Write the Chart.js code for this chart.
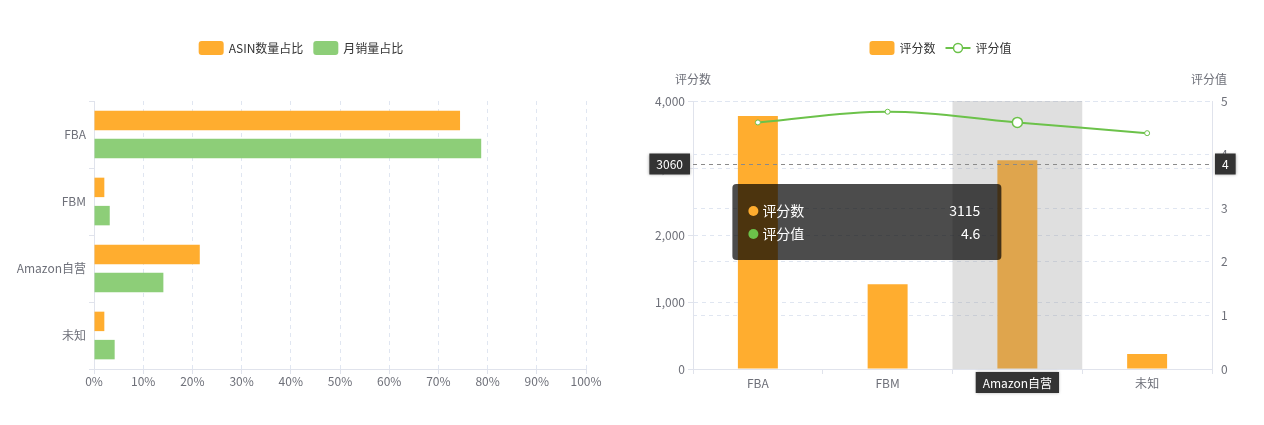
<!DOCTYPE html>
<html>
<head>
<meta charset="utf-8">
<script src="https://cdn.jsdelivr.net/npm/chart.js@4.4.1/dist/chart.umd.min.js"></script>
<style>
  html, body { margin: 0; padding: 0; background: #ffffff; }
  #wrap { position: relative; width: 1264px; height: 425px; overflow: hidden; }
  .panel { position: absolute; top: 0; width: 632px; height: 425px; }
</style>
</head>
<body>
<div id="wrap">
  <div class="panel" style="left:0"><canvas id="shareChart" width="632" height="425"></canvas></div>
  <div class="panel" style="left:632px"><canvas id="ratingChart" width="632" height="425"></canvas></div>
</div>
<script>
// ---------- data ----------
const categories = ['FBA', 'FBM', 'Amazon自营', '未知'];
const asinShare = [74.4, 2.1, 21.5, 2.1];      // ASIN数量占比 (%)
const salesShare = [78.7, 3.2, 14.1, 4.2];     // 月销量占比 (%)
const percentTicks = [0, 10, 20, 30, 40, 50, 60, 70, 80, 90, 100];
const reviewCounts = [3776, 1264, 3115, 224];  // 评分数
const ratingValues = [4.6, 4.8, 4.6, 4.4];     // 评分值
const countTicks = [0, 1000, 2000, 3000, 4000];
const ratingTicks = [0, 1, 2, 3, 4, 5];
const shareLabels = ['ASIN数量占比', '月销量占比'];
const ratingLabels = ['评分数', '评分值'];
const axisNames = ['评分数', '评分值'];
const hoverCategory = 'Amazon自营';
const pointerCount = 3060;

// ---------- styles ----------
const FONT = "'Noto Sans CJK SC', 'Noto Sans', sans-serif";
const ORANGE = '#ffad2f';
const GREEN_BAR = '#8dce78';
const LINE_GREEN = '#6cc24a';
const AXIS = '#e0e3ec';
const GRID = '#e0e6f1';
const LABEL = '#6e7079';
const LEGEND_TEXT = '#333333';

Chart.defaults.font.family = FONT;
Chart.defaults.font.size = 12;
Chart.defaults.color = LABEL;

const tickSetter = (arr) => (scale) => { scale.ticks = arr.map(v => ({ value: v })); };

// custom flat legend (ECharts-like), drawn from datasets
const flatLegend = {
  id: 'flatLegend',
  afterDraw(chart, args, opts) {
    const ctx = chart.ctx;
    ctx.save();
    ctx.font = '12px ' + FONT;
    ctx.textBaseline = 'middle';
    const items = chart.data.datasets.map(ds => ({
      text: ds.label,
      color: ds.type === 'line' ? ds.borderColor : ds.backgroundColor,
      line: ds.type === 'line'
    }));
    const iconW = 25, gapIcon = 5, gapItem = 10;
    let total = 0;
    items.forEach((it, i) => {
      it.w = ctx.measureText(it.text).width;
      total += iconW + gapIcon + it.w + (i > 0 ? gapItem : 0);
    });
    let x = opts.centerX - total / 2;
    const y = opts.y;
    items.forEach(it => {
      if (it.line) {
        ctx.strokeStyle = it.color;
        ctx.lineWidth = 2;
        ctx.beginPath(); ctx.moveTo(x, y); ctx.lineTo(x + iconW, y); ctx.stroke();
        ctx.fillStyle = '#fff';
        ctx.lineWidth = 1.5;
        ctx.beginPath(); ctx.arc(x + iconW / 2, y, 4.5, 0, Math.PI * 2); ctx.fill(); ctx.stroke();
      } else {
        ctx.fillStyle = it.color;
        ctx.beginPath(); ctx.roundRect(x, y - 7, iconW, 14, 3); ctx.fill();
      }
      ctx.fillStyle = LEGEND_TEXT;
      ctx.textAlign = 'left';
      ctx.fillText(it.text, x + iconW + gapIcon, y);
      x += iconW + gapIcon + it.w + gapItem;
    });
    ctx.restore();
  }
};

// ---------- left chart ----------
new Chart(document.getElementById('shareChart'), {
  type: 'bar',
  data: {
    labels: categories,
    datasets: [
      { label: shareLabels[0], data: asinShare, backgroundColor: ORANGE, barPercentage: 0.69, categoryPercentage: 0.842 },
      { label: shareLabels[1], data: salesShare, backgroundColor: GREEN_BAR, barPercentage: 0.69, categoryPercentage: 0.842 }
    ]
  },
  options: {
    indexAxis: 'y',
    responsive: false,
    animation: false,
    events: [],
    layout: { padding: { top: 101, right: 46, bottom: 26, left: 0 } },
    scales: {
      x: {
        type: 'linear', min: 0, max: 100,
        afterBuildTicks: tickSetter(percentTicks),
        ticks: { callback: v => v + '%', color: LABEL, padding: 0, maxRotation: 0, autoSkip: false },
        grid: { color: GRID, tickLength: 5, tickColor: AXIS, tickBorderDash: [] },
        border: { color: AXIS, dash: [4, 4] },
        afterFit: s => { s.height = 30; }
      },
      y: {
        type: 'category',
        ticks: { color: LABEL, padding: 3 },
        grid: { drawOnChartArea: false, tickLength: 5, color: AXIS },
        border: { color: AXIS },
        afterFit: s => { s.width = 94; }
      }
    },
    plugins: {
      legend: { display: false },
      tooltip: { enabled: false },
      flatLegend: { centerX: 301, y: 48 }
    }
  },
  plugins: [flatLegend]
});

// ---------- right chart: hover view (axis pointer + tooltip) ----------
const pointerView = {
  id: 'pointerView',
  beforeDatasetDraw(chart, args) {
    if (args.meta.type !== 'line') return;
    const ctx = chart.ctx, xs = chart.scales.x, area = chart.chartArea;
    const i = categories.indexOf(hoverCategory);
    const half = (xs.getPixelForValue(1) - xs.getPixelForValue(0)) / 2;
    const cx = xs.getPixelForValue(i);
    ctx.save();
    ctx.fillStyle = 'rgba(150,150,150,0.3)';
    ctx.fillRect(cx - half, area.top, half * 2, area.bottom - area.top);
    ctx.restore();
  },
  afterDraw(chart) {
    const ctx = chart.ctx, xs = chart.scales.x, ys = chart.scales.y, ys1 = chart.scales.y1, area = chart.chartArea;
    const i = categories.indexOf(hoverCategory);
    const cx = xs.getPixelForValue(i);
    const pyExact = ys.getPixelForValue(pointerCount);
    const py = Math.round(pyExact) + 0.5;
    const px = cx + 4;

    ctx.save();
    // axis names
    ctx.font = '12px ' + FONT;
    ctx.fillStyle = LABEL;
    ctx.textAlign = 'center';
    ctx.textBaseline = 'middle';
    ctx.fillText(axisNames[0], area.left, 79);
    ctx.fillText(axisNames[1], area.right - 3, 79);

    // crosshair line
    ctx.strokeStyle = '#8a8a8a';
    ctx.lineWidth = 1;
    ctx.setLineDash([4, 4]);
    ctx.beginPath(); ctx.moveTo(area.left, py); ctx.lineTo(area.right, py); ctx.stroke();
    ctx.setLineDash([]);

    const labelBox = (text, x, y, align) => {
      ctx.font = '12px ' + FONT;
      const w = ctx.measureText(text).width + 14, h = 21;
      let bx = align === 'right' ? x - w : align === 'center' ? x - w / 2 : x;
      ctx.save();
      ctx.shadowBlur = 3; ctx.shadowColor = '#aaa';
      ctx.fillStyle = '#333';
      ctx.fillRect(bx, y, w, h);
      ctx.restore();
      ctx.fillStyle = '#fff';
      ctx.textAlign = 'center';
      ctx.textBaseline = 'middle';
      ctx.fillText(text, bx + w / 2, y + h / 2 + 0.5);
    };
    labelBox(String(Math.round(ys.getValueForPixel(pyExact))), area.left - 3, py - 11, 'right');
    labelBox(String(Math.round(ys1.getValueForPixel(pyExact))), area.right + 3, py - 11, 'left');
    labelBox(categories[i], cx, area.bottom + 3, 'center');

    // tooltip
    const tw = 269, th = 76;
    const tx = px - 20 - tw, ty = Math.round(pyExact) + 20;
    ctx.fillStyle = 'rgba(0,0,0,0.7)';
    ctx.beginPath(); ctx.roundRect(tx, ty, tw, th, 4); ctx.fill();
    const rows = chart.data.datasets.map(ds => ({
      name: ds.label,
      value: ds.data[i],
      color: ds.type === 'line' ? ds.borderColor : ds.backgroundColor
    }));
    ctx.font = '14px ' + FONT;
    ctx.textBaseline = 'middle';
    rows.forEach((r, k) => {
      const ry = ty + 27 + k * 23;
      ctx.fillStyle = r.color;
      ctx.beginPath(); ctx.arc(tx + 21, ry, 5, 0, Math.PI * 2); ctx.fill();
      ctx.fillStyle = '#fff';
      ctx.textAlign = 'left';
      ctx.fillText(r.name, tx + 30, ry);
      ctx.textAlign = 'right';
      ctx.fillText(String(r.value), tx + 248, ry);
    });
    ctx.restore();
  }
};

// ---------- right chart ----------
new Chart(document.getElementById('ratingChart'), {
  type: 'bar',
  data: {
    labels: categories,
    datasets: [
      { type: 'bar', label: ratingLabels[0], data: reviewCounts, yAxisID: 'y', backgroundColor: ORANGE,
        barPercentage: 0.308, categoryPercentage: 1, order: 1 },
      { type: 'line', label: ratingLabels[1], data: ratingValues, yAxisID: 'y1', borderColor: LINE_GREEN,
        borderWidth: 2, tension: 0.4, fill: false, order: 0,
        pointRadius: c => categories[c.dataIndex] === hoverCategory ? 5 : 2.5,
        pointBorderWidth: c => categories[c.dataIndex] === hoverCategory ? 1.5 : 1,
        pointBackgroundColor: '#ffffff', pointBorderColor: LINE_GREEN }
    ]
  },
  options: {
    responsive: false,
    animation: false,
    events: [],
    layout: { padding: { top: 101, right: 0, bottom: 26, left: 0 } },
    scales: {
      x: {
        type: 'category', offset: true,
        ticks: { color: LABEL, padding: 2 },
        grid: { drawOnChartArea: false, tickLength: 5, color: AXIS, offset: true },
        border: { color: AXIS },
        afterFit: s => { s.height = 30; }
      },
      y: {
        type: 'linear', position: 'left', min: 0, max: 4000,
        afterBuildTicks: tickSetter(countTicks),
        ticks: { callback: v => v.toLocaleString('en-US'), color: LABEL, padding: 3 },
        grid: { color: GRID, tickLength: 5, tickColor: AXIS, tickBorderDash: [] },
        border: { color: AXIS, dash: [4, 4] },
        afterFit: s => { s.width = 61; }
      },
      y1: {
        type: 'linear', position: 'right', min: 0, max: 5,
        afterBuildTicks: tickSetter(ratingTicks),
        ticks: { color: LABEL, padding: 9 },
        grid: { color: GRID, drawTicks: false },
        border: { color: AXIS, dash: [4, 4] },
        afterFit: s => { s.width = 52; }
      }
    },
    plugins: {
      legend: { display: false },
      tooltip: { enabled: false },
      flatLegend: { centerX: 308.5, y: 48 }
    }
  },
  plugins: [pointerView, flatLegend]
});
</script>
</body>
</html>
